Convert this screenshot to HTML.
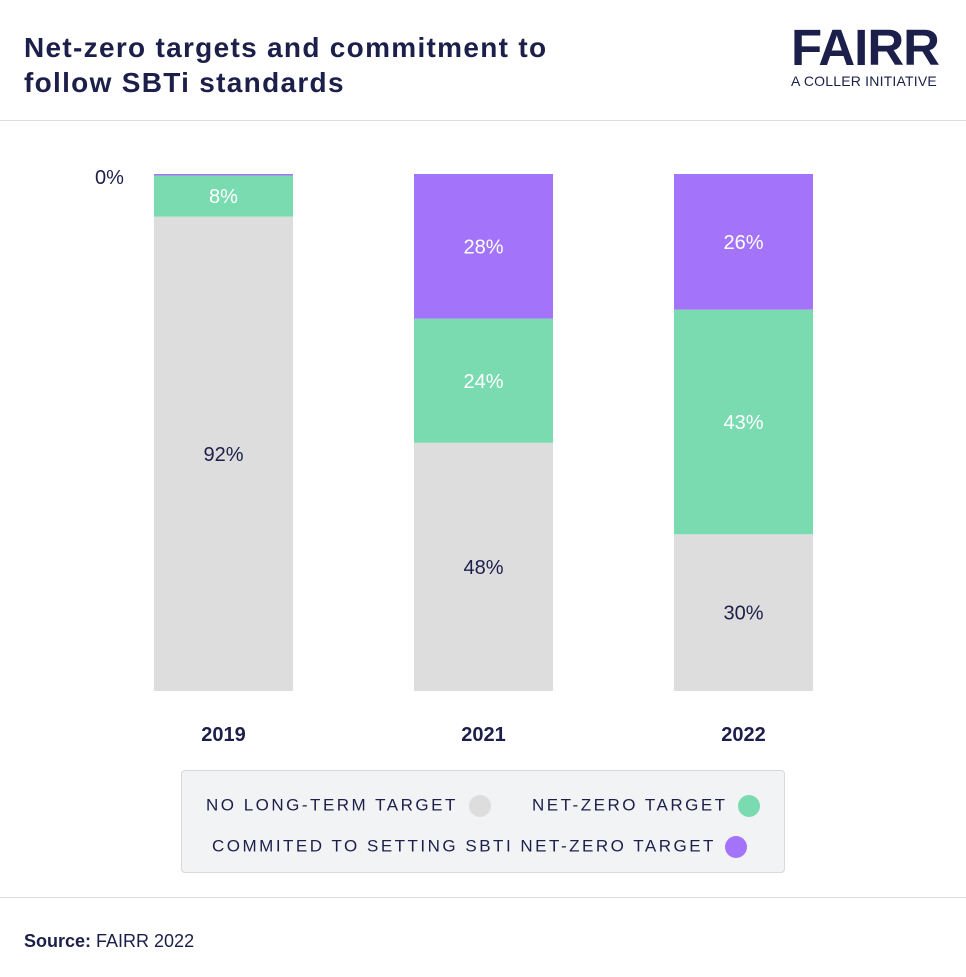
<!DOCTYPE html>
<html><head><meta charset="utf-8">
<style>
body{margin:0;background:#fff;font-family:"Liberation Sans",sans-serif;color:#1c1f4a}
#wrap{position:relative;width:966px;height:977px;overflow:hidden;background:#fff}
.t{position:absolute;white-space:nowrap}
</style></head><body>
<div id="wrap">
<div class="t" style="left:24px;top:30px;font-size:28px;font-weight:bold;line-height:35px;letter-spacing:1.3px;color:#1c1f4a">Net-zero targets and commitment to<br>follow SBTi standards</div>
<div class="t" style="left:791px;top:24px;width:160px;text-align:left">
<div style="font-size:51px;font-weight:900;letter-spacing:-1px;line-height:48px;color:#1c1f4a">FAIRR</div>
<div style="font-size:14px;letter-spacing:0.2px;margin-top:1px;color:#1c1f4a">A COLLER INITIATIVE</div>
</div>
<div class="t" style="left:0;top:120px;width:966px;height:1px;background:#ddd"></div>
<svg class="t" id="chart" style="left:0;top:0" width="966" height="760"></svg>
<div class="t" style="left:181px;top:770px;width:602px;height:101px;background:#f2f3f5;border:1px solid #d9d9d9;border-radius:4px;font-size:17px;letter-spacing:2.5px;font-weight:500">
<div class="t" style="left:24px;top:24px">NO LONG-TERM TARGET <span style="display:inline-block;width:22px;height:22px;border-radius:50%;background:#dddddd;vertical-align:middle;margin-left:4px"></span></div>
<div class="t" style="left:350px;top:24px">NET-ZERO TARGET <span style="display:inline-block;width:22px;height:22px;border-radius:50%;background:#7adbb0;vertical-align:middle;margin-left:4px"></span></div>
<div class="t" style="left:30px;top:65px">COMMITED TO SETTING SBTI NET-ZERO TARGET <span style="display:inline-block;width:22px;height:22px;border-radius:50%;background:#a374f9;vertical-align:middle;margin-left:2px"></span></div>
</div>
<div class="t" style="left:0;top:897px;width:966px;height:1px;background:#ddd"></div>
<div class="t" style="left:24px;top:931px;font-size:18px"><b>Source:</b> FAIRR 2022</div>
</div>
<script>
const categories=["2019","2021","2022"];
const sbtiValues=[0.3,28,26];
const netZeroValues=[8,24,43];
const noTargetValues=[92,48,30];
const sbtiLabels=["","28%","26%"];
const netZeroLabels=["8%","24%","43%"];
const noTargetLabels=["92%","48%","30%"];
const svg=document.getElementById('chart');
const NS="http://www.w3.org/2000/svg";
const top0=174,bot=691,x0=154,step=260,bw=139;
const xPos=i=>x0+i*step;
function mk(t,a){const e=document.createElementNS(NS,t);for(const k in a)e.setAttribute(k,a[k]);svg.appendChild(e);return e;}
const zero=mk('text',{x:95,y:184,'font-size':20,fill:'#1c1f4a','font-family':'Liberation Sans'});
zero.textContent="0%";


const series=[[sbtiValues,'#a374f9',sbtiLabels,'#fff','sbti'],[netZeroValues,'#7adbb0',netZeroLabels,'#fff','net-zero'],[noTargetValues,'#dddddd',noTargetLabels,'#1c1f4a','no-target']];
categories.forEach((c,i)=>{
  const tot=sbtiValues[i]+netZeroValues[i]+noTargetValues[i];
  const sc=v=>v/tot*(bot-top0);
  let y=top0;
  series.forEach(([vals,col,labs,tc,nm])=>{
    const h=sc(vals[i]);
    const r=mk('rect',{x:xPos(i),y:y,width:bw,height:Math.max(h,1),fill:col});
    
    
    if(labs[i]){
      const t=mk('text',{x:xPos(i)+bw/2,y:y+h/2+7,'text-anchor':'middle','font-size':20,fill:tc,'font-family':'Liberation Sans'});
      t.textContent=labs[i];
      
      
    }
    y+=h;
  });
  const xl=mk('text',{x:xPos(i)+bw/2,y:741,'text-anchor':'middle','font-size':20,'font-weight':'bold',fill:'#1c1f4a','font-family':'Liberation Sans'});
  xl.textContent=c;
  
  
});
</script>
</body></html>
